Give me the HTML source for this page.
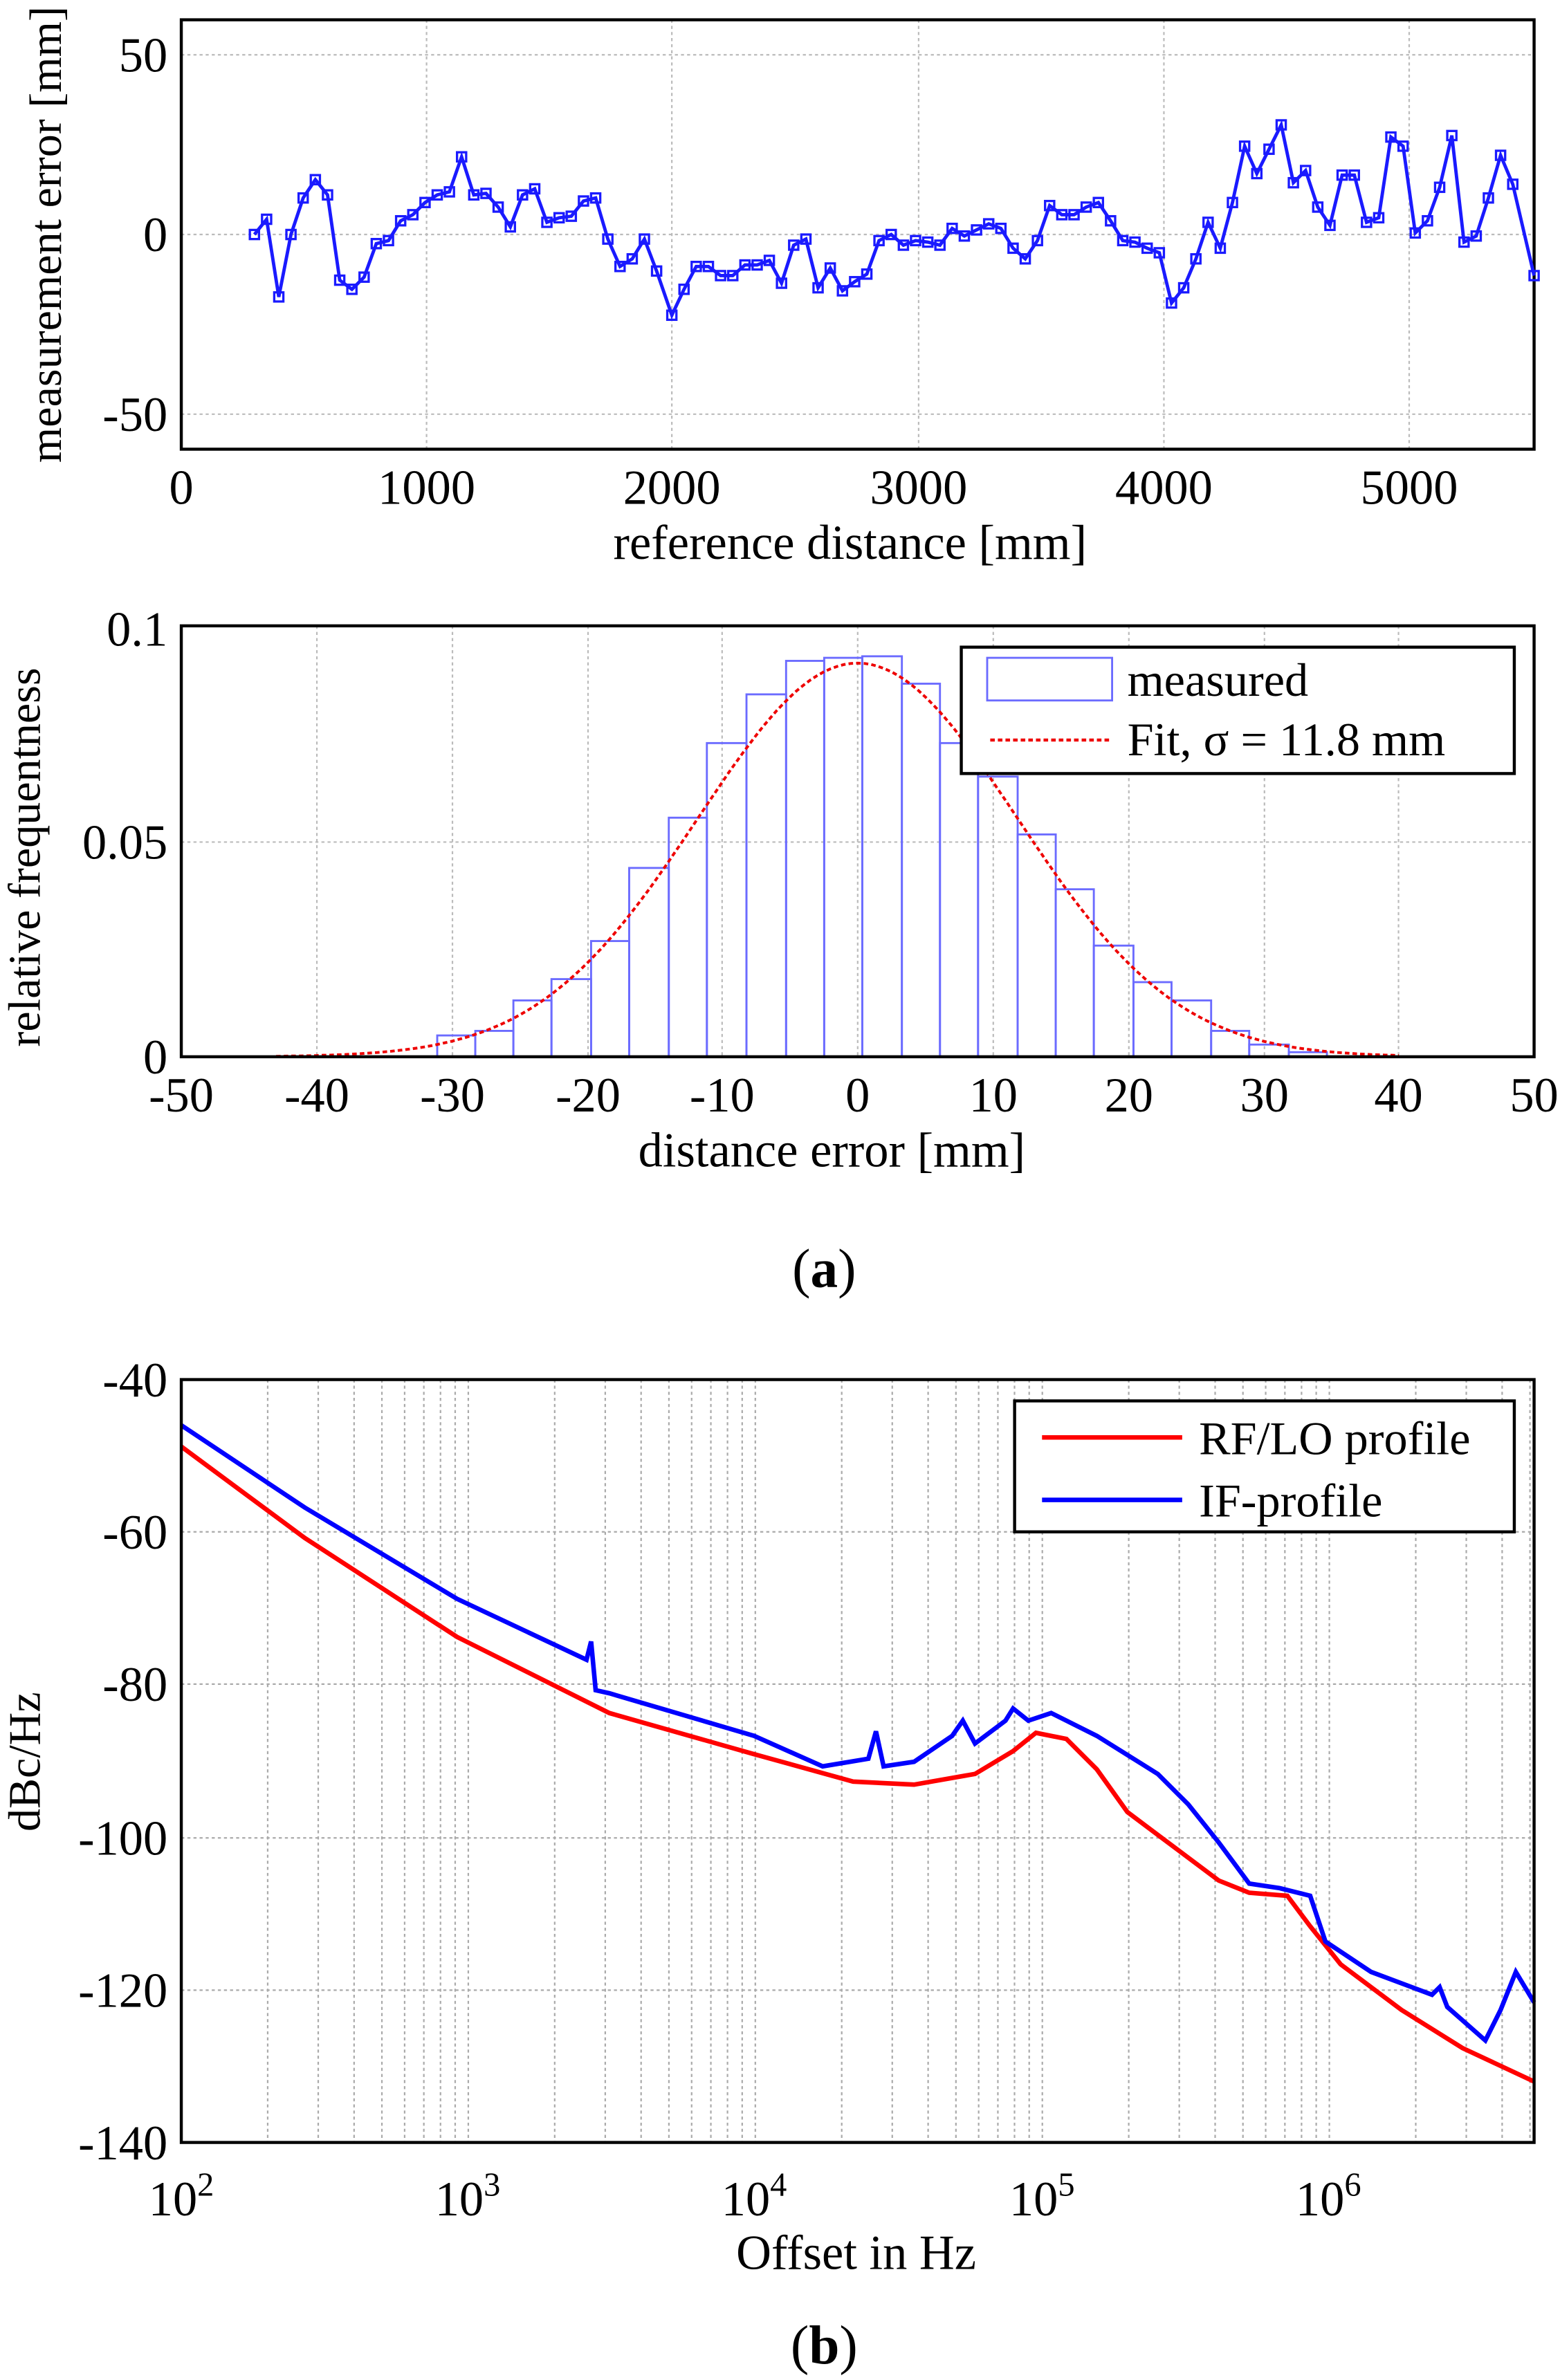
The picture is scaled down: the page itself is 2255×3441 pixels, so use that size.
<!DOCTYPE html>
<html><head><meta charset="utf-8"><style>html,body{margin:0;padding:0;background:#fff}svg{display:block}</style></head>
<body>
<svg width="2255" height="3441" viewBox="0 0 1024 1563" preserveAspectRatio="none" xmlns="http://www.w3.org/2000/svg" font-family="'Liberation Serif',serif" font-size="30" fill="#000">
<!-- Plot 1 -->
<g stroke="#bbb" stroke-width="1" stroke-dasharray="2,2">
<line x1="280" y1="13" x2="280" y2="295"/><line x1="441" y1="13" x2="441" y2="295"/><line x1="603" y1="13" x2="603" y2="295"/><line x1="764" y1="13" x2="764" y2="295"/><line x1="925" y1="13" x2="925" y2="295"/>
<line x1="119" y1="36" x2="1007" y2="36"/><line x1="119" y1="154" x2="1007" y2="154"/><line x1="119" y1="272" x2="1007" y2="272"/>
</g>
<rect x="119" y="13" width="888" height="282" fill="none" stroke="#000" stroke-width="2"/>
<polyline id="p1" fill="none" stroke="#1a1aff" stroke-width="2.2" points="167,154 175,144 183,195 191,154 199,130 207,118 215,128 223,184 231,190 239,182 247,160 255,158 263,145 271,141 279,133 287,128 295,126 303,103 311,128 319,127 327,136 335,149 343,128 351,124 359,146 367,143 375,142 383,132 391,130 399,157 407,175 415,170 423,157 431,178 441,207 449,190 457,175 465,175 473,181 481,181 489,174 497,174 505,171 513,186 521,161 529,157 537,189 545,176 553,191 561,185 569,180 577,158 585,154 593,161 601,158 609,159 617,161 625,150 633,155 641,151 649,147 657,150 665,163 673,170 681,158 689,135 697,141 705,141 713,136 721,133 729,145 737,158 745,159 753,163 761,166 769,199 777,189 785,170 793,146 801,163 809,133 817,96 825,114 833,98 841,82 849,120 857,112 865,136 873,148 881,115 889,115 897,146 905,143 913,90 921,96 929,153 937,145 945,123 953,89 961,159 969,155 977,130 985,102 993,121 1007,181"/>
<g font-size="32">
<text x="110" y="47" text-anchor="end">50</text><text x="110" y="165" text-anchor="end">0</text><text x="110" y="283" text-anchor="end">-50</text>
<text x="119" y="331" text-anchor="middle">0</text><text x="280" y="331" text-anchor="middle">1000</text><text x="441" y="331" text-anchor="middle">2000</text><text x="603" y="331" text-anchor="middle">3000</text><text x="764" y="331" text-anchor="middle">4000</text><text x="925" y="331" text-anchor="middle">5000</text>
<text x="558" y="367" text-anchor="middle">reference distance [mm]</text>
<text transform="translate(40,154) rotate(-90)" text-anchor="middle" font-size="30">measurement error [mm]</text>
</g>
<!-- Plot 2 -->
<g stroke="#bbb" stroke-width="1" stroke-dasharray="2,2">
<line x1="208" y1="411" x2="208" y2="694"/><line x1="297" y1="411" x2="297" y2="694"/><line x1="386" y1="411" x2="386" y2="694"/><line x1="474" y1="411" x2="474" y2="694"/><line x1="563" y1="411" x2="563" y2="694"/><line x1="652" y1="411" x2="652" y2="694"/><line x1="741" y1="411" x2="741" y2="694"/><line x1="830" y1="411" x2="830" y2="694"/><line x1="918" y1="411" x2="918" y2="694"/>
<line x1="119" y1="553" x2="1007" y2="553"/>
</g>
<g fill="none" stroke="#6b6bff" stroke-width="1.3">
<rect x="287" y="680" width="25" height="14"/><rect x="312" y="677" width="25" height="17"/><rect x="337" y="657" width="25" height="37"/><rect x="362" y="643" width="26" height="51"/><rect x="388" y="618" width="25" height="76"/><rect x="413" y="570" width="26" height="124"/><rect x="439" y="537" width="25" height="157"/><rect x="464" y="488" width="26" height="206"/><rect x="490" y="456" width="26" height="238"/><rect x="516" y="434" width="25" height="260"/><rect x="541" y="432" width="25" height="262"/><rect x="566" y="431" width="26" height="263"/><rect x="592" y="449" width="25" height="245"/><rect x="617" y="488" width="25" height="206"/><rect x="642" y="510" width="26" height="184"/><rect x="668" y="548" width="25" height="146"/><rect x="693" y="584" width="25" height="110"/><rect x="718" y="621" width="26" height="73"/><rect x="744" y="645" width="25" height="49"/><rect x="769" y="657" width="26" height="37"/><rect x="795" y="677" width="25" height="17"/><rect x="820" y="686" width="26" height="8"/><rect x="846" y="691" width="25" height="3"/>
</g>
<polyline id="fit" fill="none" stroke="#e00" stroke-width="1.8" stroke-dasharray="3,2" points=""/>
<rect x="119" y="411" width="888" height="283" fill="none" stroke="#000" stroke-width="2"/>
<rect x="631" y="425" width="363" height="83" fill="#fff" stroke="#000" stroke-width="2"/>
<rect x="648" y="432" width="82" height="28" fill="none" stroke="#6b6bff" stroke-width="1.3"/>
<line x1="650" y1="486" x2="730" y2="486" stroke="#e00" stroke-width="2" stroke-dasharray="3,2"/>
<text x="740" y="457" font-size="31">measured</text><text x="740" y="496" font-size="31">Fit, σ = 11.8 mm</text>
<g font-size="32">
<text x="110" y="424" text-anchor="end">0.1</text><text x="110" y="564" text-anchor="end">0.05</text><text x="110" y="705" text-anchor="end">0</text>
<text x="119" y="730" text-anchor="middle">-50</text><text x="208" y="730" text-anchor="middle">-40</text><text x="297" y="730" text-anchor="middle">-30</text><text x="386" y="730" text-anchor="middle">-20</text><text x="474" y="730" text-anchor="middle">-10</text><text x="563" y="730" text-anchor="middle">0</text><text x="652" y="730" text-anchor="middle">10</text><text x="741" y="730" text-anchor="middle">20</text><text x="830" y="730" text-anchor="middle">30</text><text x="918" y="730" text-anchor="middle">40</text><text x="1007" y="730" text-anchor="middle">50</text>
<text x="546" y="766" text-anchor="middle">distance error [mm]</text>
<text transform="translate(26,563) rotate(-90)" text-anchor="middle" font-size="30">relative frequentness</text>
</g>
<text x="541" y="845" text-anchor="middle" font-size="36">(<tspan font-weight="bold">a</tspan>)</text>
<!-- Plot 3 -->
<g id="grid3" stroke="#aaa" stroke-width="1" stroke-dasharray="2,2"></g>
<g stroke="#aaa" stroke-width="1" stroke-dasharray="2,2">
<line x1="119" y1="1006" x2="1007" y2="1006"/><line x1="119" y1="1106" x2="1007" y2="1106"/><line x1="119" y1="1207" x2="1007" y2="1207"/><line x1="119" y1="1307" x2="1007" y2="1307"/>
</g>
<polyline fill="none" stroke="#f00" stroke-width="3" points="119,950 200,1010 300,1075 400,1125 495,1152 560,1170 600,1172 640,1165 665,1150 680,1138 700,1142 720,1162 740,1190 760,1205 780,1220 800,1235 820,1243 845,1245 860,1265 880,1290 920,1320 960,1345 1007,1367"/>
<polyline fill="none" stroke="#00f" stroke-width="3" points="119,936 200,990 300,1050 385,1090 388,1078 391,1110 400,1112 495,1140 540,1160 570,1155 575,1137 580,1160 600,1157 625,1140 632,1130 640,1145 660,1130 665,1122 675,1130 690,1125 720,1140 760,1165 780,1185 800,1210 820,1237 840,1240 860,1245 870,1275 900,1295 940,1310 945,1305 950,1318 975,1340 985,1320 995,1295 1007,1315"/>
<rect x="119" y="906" width="888" height="501" fill="none" stroke="#000" stroke-width="2"/>
<rect x="666" y="920" width="328" height="86" fill="#fff" stroke="#000" stroke-width="2"/>
<line x1="684" y1="944" x2="776" y2="944" stroke="#f00" stroke-width="3"/>
<line x1="684" y1="985" x2="776" y2="985" stroke="#00f" stroke-width="3"/>
<text x="787" y="955" font-size="31">RF/LO profile</text><text x="787" y="996" font-size="31">IF-profile</text>
<g font-size="32">
<text x="110" y="917" text-anchor="end">-40</text><text x="110" y="1017" text-anchor="end">-60</text><text x="110" y="1117" text-anchor="end">-80</text><text x="110" y="1218" text-anchor="end">-100</text><text x="110" y="1318" text-anchor="end">-120</text><text x="110" y="1418" text-anchor="end">-140</text>
<text x="119" y="1455" text-anchor="middle">10<tspan dy="-13" font-size="22">2</tspan></text>
<text x="307" y="1455" text-anchor="middle">10<tspan dy="-13" font-size="22">3</tspan></text>
<text x="495" y="1455" text-anchor="middle">10<tspan dy="-13" font-size="22">4</tspan></text>
<text x="684" y="1455" text-anchor="middle">10<tspan dy="-13" font-size="22">5</tspan></text>
<text x="872" y="1455" text-anchor="middle">10<tspan dy="-13" font-size="22">6</tspan></text>
<text x="562" y="1490" text-anchor="middle">Offset in Hz</text>
<text transform="translate(26,1157) rotate(-90)" text-anchor="middle" font-size="30">dBc/Hz</text>
</g>
<text x="541" y="1552" text-anchor="middle" font-size="36">(<tspan font-weight="bold">b</tspan>)</text>
</svg>
<script>
(function(){
var ns="http://www.w3.org/2000/svg";
var p=[];for(var x=-43;x<=40;x+=0.5){var y=0.092*Math.exp(-x*x/(2*11.8*11.8));p.push((563+x*8.88).toFixed(1)+","+(694-y*2810).toFixed(1));}
document.getElementById("fit").setAttribute("points",p.join(" "));
var g=document.getElementById("grid3");
for(var d=2;d<=6;d++)for(var k=1;k<=9;k++){var lx=119+((d-2)+Math.log10(k))*188.4;if(lx<=119||lx>=1007)continue;var l=document.createElementNS(ns,"line");l.setAttribute("x1",lx);l.setAttribute("x2",lx);l.setAttribute("y1",906);l.setAttribute("y2",1407);g.appendChild(l);}
var pts=document.getElementById("p1").getAttribute("points").trim().split(/\s+/);
var svg=document.querySelector("svg");
pts.forEach(function(s){var c=s.split(",");var r=document.createElementNS(ns,"rect");r.setAttribute("x",c[0]-3);r.setAttribute("y",c[1]-3);r.setAttribute("width",6);r.setAttribute("height",6);r.setAttribute("fill","none");r.setAttribute("stroke","#1a1aff");r.setAttribute("stroke-width","1.5");svg.appendChild(r);});
})();
</script>
</body></html>
